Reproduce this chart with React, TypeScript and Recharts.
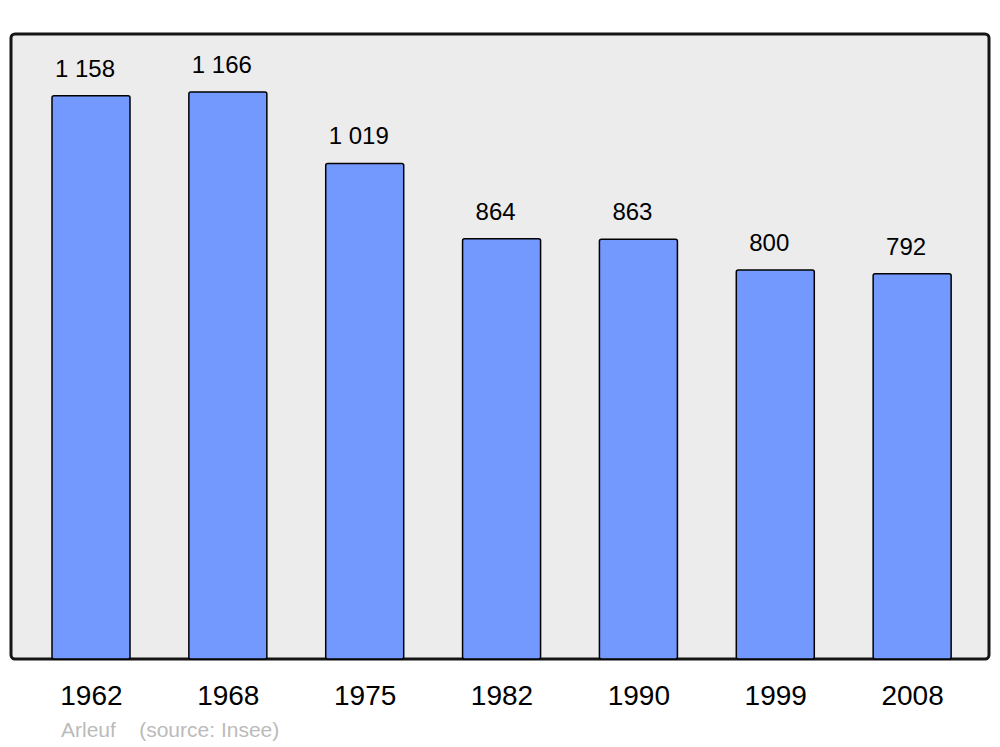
import React from "react";
import { BarChart, Bar, XAxis, YAxis, LabelList, ReferenceArea } from "recharts";

const years = ["1962", "1968", "1975", "1982", "1990", "1999", "2008"];
const population = [1158, 1166, 1019, 864, 863, 800, 792];
const commune = "Arleuf";
const source = "(source: Insee)";

const data = years.map((y, i) => ({ year: y, pop: population[i] }));
const lastIndex = years.length - 1;

const fmt = (v: any) => String(v).replace(/\B(?=(\d{3})+(?!\d))/g, " ");

export default function App() {
  return (
    <div style={{ position: "absolute", left: 0, top: 0, width: 1000, height: 747, background: "#fff" }}>
      <BarChart
        width={1000}
        height={747}
        data={data}
        margin={{ top: 34, right: 11, bottom: 28, left: 11 }}
        barSize={78}
      >
        <XAxis
          xAxisId="frame"
          type="number"
          domain={[0, lastIndex]}
          allowDataOverflow
          hide
        />
        <XAxis
          dataKey="year"
          height={60}
          axisLine={false}
          tickLine={false}
          padding={{ left: 12, right: 8 }}
          tickMargin={20}
          tick={{ fontSize: 28, fill: "#000", fontFamily: "Liberation Sans, Arial, sans-serif" }}
          interval={0}
        />
        <YAxis hide domain={[0, 1285]} />
        <ReferenceArea
          xAxisId="frame"
          x1={0}
          x2={lastIndex}
          y1={0}
          y2={1285}
          fill="#ECECEC"
          fillOpacity={1}
          stroke="#151515"
          strokeWidth={3}
          radius={4}
          ifOverflow="visible"
        />
        <Bar
          dataKey="pop"
          fill="#7399FF"
          stroke="#000"
          strokeWidth={1.5}
          radius={2}
          isAnimationActive={false}
        >
          <LabelList
            dataKey="pop"
            position="top"
            offset={19}
            dx={-6}
            formatter={fmt}
            style={{ fontSize: 24, fill: "#000", fontFamily: "Liberation Sans, Arial, sans-serif" }}
          />
        </Bar>
      </BarChart>
      <div
        style={{
          position: "absolute",
          left: 61,
          top: 718,
          fontSize: 21,
          color: "#BBBBBB",
          fontFamily: "Liberation Sans, Arial, sans-serif",
          whiteSpace: "pre",
          lineHeight: "24px",
        }}
      >
        {commune + "    " + source}
      </div>
    </div>
  );
}
